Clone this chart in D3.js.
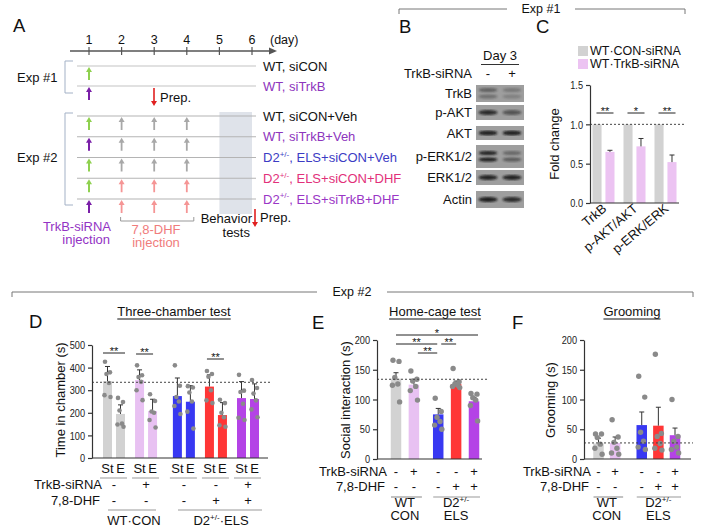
<!DOCTYPE html>
<html>
<head>
<meta charset="utf-8">
<script src="https://cdn.jsdelivr.net/npm/d3@7"></script>
<style>
  body { margin: 0; background: #fff; }
  svg { font-family: "Liberation Sans", Arial, sans-serif; }
</style>
</head>
<body>
<svg id="fig" width="702" height="530"></svg>
<script>
// ---------- data ----------
// A: timeline design
const days = [1, 2, 3, 4, 5, 6];
const exp1Labels = ['WT, siCON', 'WT, siTrkB'];
const exp1Colors = ['#111', '#8d35bd'];
const exp1Inject = ['#8fd14f', '#7a1fa8'];
const exp2Labels = ['WT, siCON+Veh', 'WT, siTrkB+Veh', 'D2+/-, ELS+siCON+Veh', 'D2+/-, ELS+siCON+DHF', 'D2+/-, ELS+siTrkB+DHF'];
const exp2Colors = ['#111', '#8d35bd', '#3c3cc4', '#e2307a', '#9a36c6'];
const exp2Inject = ['#8fd14f', '#7a1fa8', '#8fd14f', '#8fd14f', '#7a1fa8'];
const exp2Drug = ['#a8a8a8', '#a8a8a8', '#a8a8a8', '#f59595', '#f59595'];
const drugDays = [2, 3, 4];

// B: western blot (band intensity per lane, 0..1)
const blotNames = ['TrkB', 'p-AKT', 'AKT', 'p-ERK1/2', 'ERK1/2', 'Actin'];
const blotMinus = [[0.45, 0.35], [0.85], [0.9], [0.9, 0.95], [0.9], [0.95]];
const blotPlus = [[0.28, 0.22], [0.55], [0.9], [0.4, 0.5], [0.9], [0.85]];

// C: fold change
const cCats = ['TrkB', 'p-AKT/AKT', 'p-ERK/ERK'];
const cCon = [1, 1, 1];
const cTrk = [0.65, 0.72, 0.52];
const cTrkErr = [0.02, 0.10, 0.09];
const cSig = ['**', '*', '**'];

// shared group annotation for D-F
const groupTrk = ['-', '+', '-', '-', '+'];
const groupDhf = ['-', '-', '-', '+', '+'];
const groupColors = ['#d2d2d2', '#e8c1f2', '#3838f2', '#ff3636', '#b443e6'];

// D: three-chamber test (St = stranger, E = empty)
const dStranger = [340, 345, 274, 316, 265];
const dStrangerErr = [65, 45, 80, 52, 73];
const dEmpty = [195, 208, 249, 190, 261];
const dEmptyErr = [40, 52, 71, 55, 67];
const dStrangerPts = [[426, 379, 372, 332, 278, 270], [410, 366, 358, 337, 300, 256], [410, 320, 270, 250, 230, 195],
  [385, 372, 360, 300, 255, 243], [368, 298, 292, 240, 178, 168]];
const dEmptyPts = [[266, 248, 210, 152, 148, 138], [282, 252, 206, 200, 168, 135], [318, 312, 290, 250, 205, 130],
  [258, 243, 200, 180, 145, 138], [345, 310, 285, 255, 215, 180]];

// E: home-cage social interaction
const eMean = [135, 125, 75, 126, 97];
const eErr = [10, 7, 10, 5, 6];
const ePts = [[166, 164, 137, 126, 124, 96], [148, 134, 131, 122, 115, 99], [102, 80, 70, 63, 57, 50],
  [152, 130, 126, 124, 122, 120], [110, 109, 103, 99, 90, 64]];

// F: grooming
const fMean = [26, 27, 57, 56, 40];
const fErr = [9, 10, 22, 31, 12];
const fPts = [[42, 42, 36, 25, 18, 8], [66, 37, 28, 18, 10, 8], [139, 104, 45, 30, 20, 16],
  [176, 43, 38, 26, 18, 15], [100, 38, 30, 20, 16, 10]];

// ---------- helpers ----------
const svg = d3.select('#fig');
const dotColor = '#8a8a8a';
const FS = 13;

function label(x, y, s, size, fill, anchor) {
  const t = svg.append('text').attr('x', x).attr('y', y)
    .attr('font-size', size).attr('fill', fill || '#111')
    .attr('text-anchor', anchor || 'start');
  const m = s.match(/^(.*?D2)(\+\/-)(.*)$/); // superscript genotype
  if (m) {
    t.append('tspan').text(m[1]);
    t.append('tspan').attr('font-size', size * 0.62).attr('dy', -size * 0.4).text(m[2]);
    t.append('tspan').attr('dy', size * 0.4).text(m[3]);
  } else t.text(s);
  return t;
}

function line(x1, y1, x2, y2, stroke, w, dash) {
  return svg.append('line').attr('x1', x1).attr('y1', y1).attr('x2', x2).attr('y2', y2)
    .attr('stroke', stroke || '#333').attr('stroke-width', w || 1)
    .attr('stroke-dasharray', dash || null);
}

function arrow(x, y0, y1, color, w) {
  const dir = y1 < y0 ? 1 : -1;
  const hl = 5, hw = 3;
  line(x, y0, x, y1 + dir * hl * 0.8, color, w || 2);
  svg.append('path').attr('d', `M${x},${y1} L${x - hw},${y1 + dir * hl} L${x + hw},${y1 + dir * hl} Z`).attr('fill', color);
}

function header(x0, x1, y, cx, gap, s) {
  svg.append('path').attr('d', `M${x0},${y + 5} V${y} H${cx - gap}`).attr('fill', 'none').attr('stroke', '#777');
  svg.append('path').attr('d', `M${cx + gap},${y} H${x1} V${y + 5}`).attr('fill', 'none').attr('stroke', '#777');
  label(cx, y + 4, s, 12.5, '#111', 'middle');
}

// tick numbers in the figure are set in a narrow face
function yAxis(scale, x, ticks, fmt) {
  const g = svg.append('g').attr('transform', `translate(${x},0)`)
    .call(d3.axisLeft(scale).tickValues(ticks).tickSize(4).tickSizeOuter(0).tickFormat(fmt || d3.format('d')));
  g.selectAll('text').attr('font-size', 11.5).attr('fill', '#222')
    .attr('font-family', '"Liberation Sans", Arial, sans-serif')
    .attr('x', -7 / 0.8).attr('transform', 'scale(0.8,1)');
  g.selectAll('line, path').attr('stroke', '#333').attr('stroke-width', 1.2);
  return g;
}

function yTitle(x, y, s) {
  svg.append('text').attr('transform', `translate(${x},${y}) rotate(-90)`)
    .attr('text-anchor', 'middle').attr('font-size', FS).attr('fill', '#111').text(s);
}

function title(cx, y, s) {
  const t = label(cx, y, s, FS, '#111', 'middle');
  const w = t.node().getComputedTextLength();
  line(cx - w / 2, y + 3, cx + w / 2, y + 3, '#111', 1);
}

function sig(x0, x1, y, s) {
  line(x0, y, x1, y, '#222', 1);
  label((x0 + x1) / 2, y + 2, s, 11, '#111', 'middle');
}

function bar(x, w, y, v, err, color) {
  svg.append('rect').attr('x', x - w / 2).attr('y', y(v)).attr('width', w).attr('height', y(0) - y(v)).attr('fill', color);
  if (err) {
    line(x, y(v), x, y(v + err), '#333', 1);
    line(x - 2.5, y(v + err), x + 2.5, y(v + err), '#333', 1);
  }
}

const jitter = [-2.5, 2.5, -1, 1.5, -3, 3];
function dots(x, y, pts, r, spread) {
  pts.forEach((v, i) => svg.append('circle').attr('cx', x + jitter[i] * spread).attr('cy', y(v)).attr('r', r).attr('fill', dotColor));
}

function groupSigns(xs, endX, y1, y2) {
  label(endX, y1, 'TrkB-siRNA', FS, '#111', 'end');
  label(endX - 2, y2, '7,8-DHF', FS, '#111', 'end');
  xs.forEach((x, i) => {
    label(x, y1, groupTrk[i], FS, '#111', 'middle');
    label(x, y2, groupDhf[i], FS, '#111', 'middle');
  });
}

// ---------- A ----------
label(13, 32, 'A', 18.5);
const xDay = d3.scaleLinear([1, 6], [89, 252]);
svg.append('rect').attr('x', xDay(5)).attr('y', 112).attr('width', xDay(6) - xDay(5)).attr('height', 102).attr('fill', '#dfe3ea');
line(70, 51, 271, 51, '#555', 1.5);
svg.append('path').attr('d', 'M277,51 L269,47.5 L269,54.5 Z').attr('fill', '#555');
days.forEach(d => {
  line(xDay(d), 47, xDay(d), 55, '#555', 1.2);
  label(xDay(d), 44, String(d), 12.5, '#111', 'middle');
});
label(270, 44, '(day)', 12.5);

const exp1Y = d3.scaleLinear([0, 1], [66, 86]);
exp1Labels.forEach((s, i) => {
  const y = exp1Y(i);
  line(77, y, 256, y, '#c4c4c4', 1.2);
  label(263, y + 4.5, s, FS, exp1Colors[i]);
  arrow(xDay(1), y + 14, y + 1, exp1Inject[i]);
});
const exp2Y = d3.scaleLinear([0, 4], [116, 199]);
exp2Labels.forEach((s, i) => {
  const y = exp2Y(i);
  line(77, y, 256, y, '#b4b4b4', 1.2);
  label(263, y + 4.5, s, FS, exp2Colors[i]);
  arrow(xDay(1), y + 14, y + 1, exp2Inject[i]);
  drugDays.forEach(d => arrow(xDay(d), y + 14, y + 1, exp2Drug[i], 1.8));
});
svg.append('path').attr('d', 'M73,61 H65 V93 H73').attr('fill', 'none').attr('stroke', '#a3b1c6');
svg.append('path').attr('d', 'M73,113 H65 V205 H73').attr('fill', 'none').attr('stroke', '#a3b1c6');
label(17, 82, 'Exp #1', FS);
label(17, 162, 'Exp #2', FS);

arrow(154, 88, 106, '#e02020', 1.6);
label(160, 102, 'Prep.', FS);
arrow(255, 209, 227, '#e02020', 1.6);
label(260, 222, 'Prep.', FS);
label(252, 223, 'Behavior', 13, '#111', 'end');
label(250, 236.5, 'tests', 13, '#111', 'end');
svg.append('path').attr('d', `M${xDay(2) - 1},217 V221 H${xDay(4) + 7} V217`).attr('fill', 'none').attr('stroke', '#999');
label(156, 234, '7,8-DHF', FS, '#f07c7c', 'middle');
label(156, 246.5, 'injection', FS, '#f07c7c', 'middle');
label(111, 230.5, 'TrkB-siRNA', FS, '#9333c4', 'end');
label(110, 244, 'injection', FS, '#9333c4', 'end');

// ---------- B ----------
header(399, 685, 9, 541, 34, 'Exp #1');
label(399, 33, 'B', 18.5);
label(500, 60, 'Day 3', FS, '#111', 'middle');
line(481, 64.5, 519, 64.5, '#333', 1);
label(472, 78, 'TrkB-siRNA', FS, '#111', 'end');
label(488, 78, '-', FS, '#111', 'middle');
label(512, 78, '+', FS, '#111', 'middle');

const defs = svg.append('defs');
defs.append('filter').attr('id', 'blur').append('feGaussianBlur').attr('stdDeviation', 0.9);
const blotTop = [85, 105, 126, 145, 170, 191];
const blotH = [17, 15, 14, 23, 15, 17];
const laneX = [488, 512];
blotNames.forEach((name, i) => {
  const y0 = blotTop[i], h = blotH[i];
  svg.append('rect').attr('x', 476).attr('y', y0).attr('width', 48).attr('height', h).attr('fill', '#9e9e9e');
  label(472, y0 + h / 2 + 4.5, name, FS, '#111', 'end');
  [blotMinus[i], blotPlus[i]].forEach((bands, lane) => {
    bands.forEach((a, k) => {
      const cy = bands.length === 1 ? y0 + h / 2 : y0 + h / 2 + (k === 0 ? -3.5 : 3);
      svg.append('ellipse').attr('cx', laneX[lane]).attr('cy', cy).attr('rx', 9.5).attr('ry', bands.length === 1 ? 2.4 : 2.1)
        .attr('fill', '#141414').attr('opacity', a).attr('filter', 'url(#blur)');
    });
  });
});

// ---------- C ----------
label(536, 33, 'C', 18.5);
svg.append('rect').attr('x', 578).attr('y', 46).attr('width', 10).attr('height', 10).attr('fill', groupColors[0]);
label(590, 55, 'WT·CON-siRNA', 12.5);
svg.append('rect').attr('x', 578).attr('y', 59).attr('width', 10).attr('height', 10).attr('fill', '#ecc3f2');
label(590, 68, 'WT·TrkB-siRNA', 12.5);

const yC = d3.scaleLinear([0, 1.5], [203, 85]);
const xC = d3.scaleBand(cCats, [590, 679]).paddingInner(0.29).paddingOuter(0.08);
const xCi = d3.scaleBand(['con', 'trk'], [0, xC.bandwidth()]).paddingInner(0.3);
cCats.forEach((c, i) => {
  const b0 = xC(c);
  bar(b0 + xCi('con') + xCi.bandwidth() / 2, xCi.bandwidth(), yC, cCon[i], 0, groupColors[0]);
  bar(b0 + xCi('trk') + xCi.bandwidth() / 2, xCi.bandwidth(), yC, cTrk[i], cTrkErr[i], '#ecc3f2');
  sig(b0 + 4, b0 + xC.bandwidth() - 1, 113, cSig[i]);
  svg.append('text').attr('transform', `translate(${b0 + xC.bandwidth() / 2 + 4},210) rotate(-40)`)
    .attr('text-anchor', 'end').attr('font-size', FS).attr('fill', '#111').text(c);
});
line(590, yC(1), 685, yC(1), '#444', 1, '2,2');
yAxis(yC, 590, [0, 0.5, 1, 1.5], d3.format('.1f'));
line(590, yC(0), 679, yC(0), '#333', 1.2);
yTitle(559, 144, 'Fold change');

// ---------- D ----------
header(12, 693, 292, 352, 35, 'Exp #2');
label(29, 328, 'D', 18.5);
title(174, 316, 'Three-chamber test');
const yD = d3.scaleLinear([0, 500], [458, 345]);
const dSlot = [0, 1, 2.18, 3.18, 4.18];
const xD = d3.scaleLinear([0, 4.18], [114, 248]);
dSlot.forEach((s, i) => {
  const cx = xD(s);
  bar(cx - 6.5, 9, yD, dStranger[i], dStrangerErr[i], groupColors[i]);
  bar(cx + 6.5, 9, yD, dEmpty[i], dEmptyErr[i], groupColors[i]);
  dots(cx - 6.5, yD, dStrangerPts[i], 2.3, 1);
  dots(cx + 6.5, yD, dEmptyPts[i], 2.3, 1);
  label(cx - 6.5, 473, 'St', FS, '#111', 'middle');
  label(cx + 6.5, 473, 'E', FS, '#111', 'middle');
  line(cx - 14, 478, cx + 13, 478, '#999', 1);
});
line(92, yD(335), 272, yD(335), '#444', 1, '2,2');
sig(xD(0) - 11, xD(0) + 11, 353, '**');
sig(xD(1) - 10, xD(1) + 7, 354, '**');
sig(xD(3.18) - 9, xD(3.18) + 8, 359, '**');
yAxis(yD, 92, [0, 100, 200, 300, 400, 500]);
line(92, yD(0), 268, yD(0), '#333', 1.2);
yTitle(65, 400, 'Time in chamber (s)');
groupSigns(dSlot.map(s => xD(s)), 102, 489, 505);
line(108, 510, 156, 510, '#999', 1.2);
line(178, 510, 262, 510, '#999', 1.2);
label(134, 525, 'WT·CON', FS, '#111', 'middle');
label(221, 525, 'D2+/-·ELS', FS, '#111', 'middle');

// ---------- E & F ----------
function singlePanel(o) {
  label(o.letterX, 329, o.letter, 18.5);
  title(o.titleX, 316, o.title);
  const y = d3.scaleLinear([0, 200], [459, 340]);
  const x = d3.scaleLinear([0, o.slot[4]], o.xr);
  o.slot.forEach((s, i) => {
    bar(x(s), 10.5, y, o.mean[i], o.err[i], groupColors[i]);
    dots(x(s), y, o.pts[i], 2.7, 1.2);
  });
  line(o.axisX, y(o.ref), o.dashEnd, y(o.ref), '#444', 1, '2,2');
  yAxis(y, o.axisX, [0, 50, 100, 150, 200]);
  line(o.axisX, y(0), o.axisEnd, y(0), '#333', 1.2);
  yTitle(o.yTitleX, 400, o.yTitle);
  const xs = o.slot.map(s => x(s));
  groupSigns(xs, o.signX, 476, 491);
  line(xs[0] - 5, 497, xs[1] + 8, 497, '#999', 1.2);
  line(xs[2] - 5, 497, xs[4] + 6, 497, '#999', 1.2);
  label((xs[0] + xs[1]) / 2, 507, 'WT', FS, '#111', 'middle');
  label((xs[0] + xs[1]) / 2, 520, 'CON', FS, '#111', 'middle');
  label(xs[3], 507, 'D2+/-', FS, '#111', 'middle');
  label(xs[3], 520, 'ELS', FS, '#111', 'middle');
  return x;
}

const xE = singlePanel({
  letter: 'E', letterX: 312, title: 'Home-cage test', titleX: 435,
  slot: [0, 1, 2.36, 3.36, 4.36], xr: [396, 474], mean: eMean, err: eErr, pts: ePts,
  ref: 134, axisX: 377, axisEnd: 482, dashEnd: 488, yTitle: 'Social interaction (s)', yTitleX: 350, signX: 387
});
sig(xE(0), xE(4.36) + 4, 335, '*');
sig(xE(0), xE(2.36) - 1, 344, '**');
sig(xE(2.36) + 3, xE(3.36), 344, '**');
sig(xE(1) + 4, xE(2.36) - 1, 353, '**');

singlePanel({
  letter: 'F', letterX: 512, title: 'Grooming', titleX: 632,
  slot: [0, 1, 2.6, 3.6, 4.6], xr: [598.5, 675], mean: fMean, err: fErr, pts: fPts,
  ref: 27, axisX: 584, axisEnd: 691, dashEnd: 693, yTitle: 'Grooming (s)', yTitleX: 555, signX: 591
});
</script>
</body>
</html>
